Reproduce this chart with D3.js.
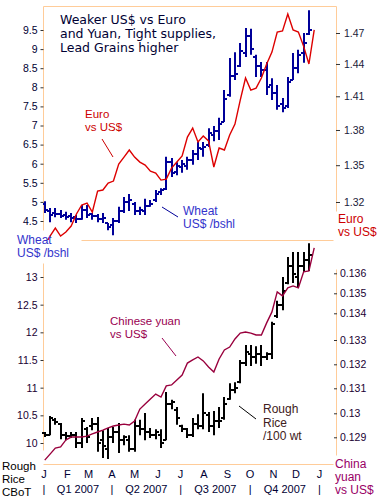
<!DOCTYPE html>
<html><head><meta charset="utf-8">
<script src="https://cdn.jsdelivr.net/npm/d3@7"></script>
<style>
body{margin:0;background:#fff}
svg{display:block}
text{font-family:"Liberation Sans",Arial,sans-serif}
</style>
</head><body>
<svg id="chart" width="381" height="499"></svg>
<script>
// ---------- data ----------
const wheatHigh = [5.02,4.84,4.84,4.79,4.74,4.71,4.66,4.92,4.92,4.71,4.68,4.71,4.45,4.58,4.87,5.13,5.21,5.00,4.87,5.08,5.05,5.31,5.36,6.18,6.15,6.04,6.10,6.18,6.36,6.57,6.57,6.93,6.99,7.20,7.93,8.77,8.92,9.16,9.55,9.53,8.85,8.66,8.66,8.24,8.06,7.72,8.27,8.90,8.98,9.42,10.02];
const wheatLow = [4.71,4.47,4.60,4.58,4.53,4.47,4.45,4.53,4.58,4.53,4.47,4.45,4.26,4.13,4.45,4.71,4.76,4.66,4.66,4.66,4.87,5.00,5.18,5.31,5.65,5.70,5.76,5.84,5.97,6.10,6.18,6.44,6.59,6.62,7.09,7.75,8.19,8.53,8.79,8.85,8.27,8.27,7.80,7.67,7.41,7.35,7.46,8.19,8.37,8.64,9.37];
const wheatOpen = [4.95,4.75,4.70,4.68,4.65,4.62,4.60,4.55,4.80,4.68,4.62,4.55,4.45,4.40,4.50,4.75,5.00,4.95,4.75,4.75,4.90,5.05,5.25,5.35,6.05,5.78,5.92,5.95,6.10,6.25,6.38,6.50,6.75,6.85,7.10,7.80,8.30,8.55,8.90,9.35,8.80,8.55,8.45,8.05,7.85,7.55,7.50,8.20,8.50,8.90,9.40];
const wheatClose = [4.78,4.65,4.68,4.62,4.60,4.58,4.55,4.78,4.65,4.62,4.55,4.58,4.35,4.50,4.75,5.00,5.05,4.75,4.78,4.90,4.95,5.20,5.30,6.05,5.75,5.95,5.98,6.10,6.25,6.40,6.45,6.80,6.85,7.05,7.70,8.30,8.35,8.95,9.35,9.00,8.55,8.45,8.00,7.85,7.50,7.45,8.15,8.50,8.85,9.15,9.50];

const riceHigh = [10.20,10.49,10.45,10.36,10.20,10.20,10.20,10.45,10.29,10.45,10.47,10.23,10.27,10.29,10.36,10.14,10.14,10.42,10.42,10.54,10.27,10.25,10.25,10.92,10.78,10.65,10.33,10.27,10.45,10.52,10.90,10.56,10.58,10.65,10.83,11.08,11.10,11.50,11.77,11.77,11.75,11.77,11.64,12.19,12.57,13.00,13.36,13.45,13.45,13.45,13.61];
const riceLow = [10.11,10.14,10.33,10.07,10.05,10.09,9.91,9.91,10.00,10.23,9.84,9.73,9.71,10.00,9.82,9.96,9.84,9.84,10.14,10.05,10.09,10.07,9.91,10.05,10.61,10.33,10.20,10.09,10.11,10.25,10.25,10.20,10.14,10.27,10.42,10.78,10.90,11.08,11.39,11.39,11.43,11.39,11.50,11.52,12.26,12.40,12.87,12.89,12.80,13.09,13.11];
const riceOpen = [10.18,10.15,10.42,10.35,10.15,10.12,10.15,10.00,10.25,10.30,10.35,10.05,9.90,10.10,10.20,10.05,10.05,9.90,10.30,10.25,10.20,10.15,10.15,10.05,10.70,10.60,10.30,10.25,10.15,10.35,10.30,10.50,10.30,10.40,10.45,10.80,10.95,11.10,11.45,11.60,11.55,11.60,11.55,11.60,12.30,12.50,12.90,13.20,13.00,13.20,13.30];
const riceClose = [10.15,10.45,10.38,10.15,10.12,10.15,10.00,10.40,10.10,10.35,10.00,9.95,10.10,10.20,10.05,10.10,9.90,10.30,10.25,10.20,10.15,10.20,10.00,10.70,10.75,10.45,10.25,10.15,10.35,10.30,10.55,10.30,10.40,10.40,10.70,10.95,11.00,11.45,11.65,11.55,11.60,11.55,11.60,12.15,12.50,12.75,13.20,13.05,13.20,13.30,13.40];

const euroVsUsd = [1.2858,1.2934,1.2995,1.2934,1.2965,1.3011,1.3105,1.3176,1.3192,1.3120,1.3288,1.3296,1.3353,1.3369,1.3510,1.3568,1.3628,1.3568,1.3526,1.3501,1.3451,1.3435,1.3377,1.3385,1.3476,1.3526,1.3577,1.3739,1.3817,1.3696,1.3748,1.3705,1.3485,1.3645,1.3628,1.3756,1.3852,1.4066,1.4268,1.4157,1.4175,1.4268,1.4400,1.4514,1.4710,1.4720,1.4890,1.4730,1.4710,1.4569,1.4400,1.4730];
const yuanVsUsd = [0.12805,0.12830,0.12855,0.12860,0.12889,0.12901,0.12901,0.12901,0.12905,0.12914,0.12922,0.12930,0.12939,0.12947,0.12951,0.12955,0.12951,0.12968,0.13017,0.13037,0.13057,0.13077,0.13065,0.13110,0.13114,0.13135,0.13155,0.13205,0.13218,0.13230,0.13214,0.13189,0.13168,0.13222,0.13259,0.13271,0.13304,0.13326,0.13330,0.13326,0.13319,0.13319,0.13364,0.13407,0.13507,0.13487,0.13527,0.13537,0.13527,0.13607,0.13612,0.13727];

const wheatTicks = [4.5,5,5.5,6,6.5,7,7.5,8,8.5,9,9.5];
const euroTicks = [1.32,1.35,1.38,1.41,1.44,1.47];
const riceTicks = [10,10.5,11,11.5,12,12.5,13];
const yuanTicks = [0.129,0.13,0.131,0.132,0.133,0.134,0.135,0.136];
const monthLabels = ["J","F","M","A","M","J","J","A","S","O","N","D","J"];
const quarterLabels = ["Q1 2007","Q2 2007","Q3 2007","Q4 2007"];

const startDate = new Date(2007,0,1), endDate = new Date(2008,0,1);
const weeks = d3.range(euroVsUsd.length).map(i => d3.timeDay.offset(new Date(2007,0,2), 7*i));
const monthStarts = d3.timeMonth.range(startDate, d3.timeDay.offset(endDate,1));
const quarterStarts = d3.timeMonth.every(3).range(startDate, d3.timeDay.offset(endDate,1));

// ---------- layout ----------
const svg = d3.select("#chart");
const ORANGE = "#ffcc99";
const x = d3.scaleTime().domain([startDate, endDate]).range([44, 319.5]);
const yWheat = d3.scaleLinear().domain([4.5, 9.5]).range([221, 30]);
const yEuro = d3.scalePow().exponent(-1).domain([1.32, 1.47]).range([202, 33]);
const yRice = d3.scaleLinear().domain([10, 13]).range([443, 277]);
const yYuan = d3.scaleLinear().domain(yuanTicks).range([437.3,413.3,388.3,364.3,340,313.3,293.3,273.3]);

// frame lines
const frame = [
  [43,6,336,6],[43,6,43,230],[336,6,336,211],[81,240,333,240],
  [43,263,43,450],[336,269,336,455],[43,464,333,464]
];
svg.append("g").selectAll("line").data(frame).join("line")
  .attr("x1",d=>d[0]+0.5).attr("y1",d=>d[1]+0.5).attr("x2",d=>d[2]+0.5).attr("y2",d=>d[3]+0.5)
  .attr("stroke",ORANGE).attr("stroke-width",1);

// axes
function styleAxis(g, color){
  g.select(".domain").remove();
  g.selectAll(".tick line").attr("stroke","#333");
  g.selectAll(".tick text").attr("fill",color).style("font-size","10.5px")
   .style("font-family","'Liberation Sans',Arial,sans-serif");
}
const fmt = d => String(d);
svg.append("g").attr("transform","translate(43.5,0)")
  .call(d3.axisLeft(yWheat).tickValues(wheatTicks).tickFormat(fmt).tickSize(3).tickPadding(3))
  .call(g=>styleAxis(g,"#000033"));
svg.append("g").attr("transform","translate(336,0)")
  .call(d3.axisRight(yEuro).tickValues(euroTicks).tickFormat(fmt).tickSize(4).tickPadding(4))
  .call(g=>styleAxis(g,"#1a1a3a"));
svg.append("g").attr("transform","translate(43.5,0)")
  .call(d3.axisLeft(yRice).tickValues(riceTicks).tickFormat(fmt).tickSize(3).tickPadding(3))
  .call(g=>styleAxis(g,"#1a0033"));
svg.append("g").attr("transform","translate(334,0)")
  .call(d3.axisRight(yYuan).tickValues(yuanTicks).tickFormat(fmt).tickSize(3).tickPadding(3))
  .call(g=>styleAxis(g,"#1a0033"));

// clip for top panel
svg.append("clipPath").attr("id","clipTop").append("rect").attr("x",43).attr("y",6).attr("width",293).attr("height",234);

// OHLC helper
function ohlc(g, hi, lo, op, cl, y, color){
  const idx = d3.range(hi.length);
  const px = i => Math.round(x(weeks[i]));
  g.selectAll("line.v").data(idx).join("line").attr("class","v")
    .attr("x1",px).attr("x2",px).attr("y1",i=>y(hi[i])).attr("y2",i=>y(lo[i]))
    .attr("stroke",color).attr("stroke-width",2);
  g.selectAll("line.o").data(idx).join("line").attr("class","o")
    .attr("x1",i=>px(i)-3).attr("x2",px).attr("y1",i=>Math.round(y(op[i]))).attr("y2",i=>Math.round(y(op[i])))
    .attr("stroke",color).attr("stroke-width",2);
  g.selectAll("line.c").data(idx).join("line").attr("class","c")
    .attr("x1",px).attr("x2",i=>px(i)+3).attr("y1",i=>Math.round(y(cl[i]))).attr("y2",i=>Math.round(y(cl[i])))
    .attr("stroke",color).attr("stroke-width",2);
}

// top panel
const topPanel = svg.append("g").attr("clip-path","url(#clipTop)");
ohlc(topPanel.append("g"), wheatHigh, wheatLow, wheatOpen, wheatClose, yWheat, "#000099");
topPanel.append("path").datum(euroVsUsd)
  .attr("d", d3.line().x((d,i)=>x(weeks[i])).y(d=>yEuro(d)))
  .attr("fill","none").attr("stroke","#dd0000").attr("stroke-width",1.4);

// bottom panel
ohlc(svg.append("g"), riceHigh, riceLow, riceOpen, riceClose, yRice, "#000000");
svg.append("path").datum(yuanVsUsd)
  .attr("d", d3.line().x((d,i)=>x(weeks[i])).y(d=>yYuan(d)))
  .attr("fill","none").attr("stroke","#99003d").attr("stroke-width",1.4);

// text helper
function label(lines, xx, y0, dy, color, size, family){
  const t = svg.append("text").attr("x",xx).attr("y",y0).attr("fill",color).style("font-size",size+"px");
  if (family) t.style("font-family", family);
  lines.forEach((s,k)=>t.append("tspan").attr("x",xx).attr("y",y0+k*dy).text(s));
}
function pointer(x1,y1,x2,y2,color){
  svg.append("line").attr("x1",x1).attr("y1",y1).attr("x2",x2).attr("y2",y2).attr("stroke",color).attr("stroke-width",1);
}

label(["Weaker US$ vs Euro","and Yuan, Tight supplies,","Lead Grains higher"],60,24,14,"#000033",12.5,"'DejaVu Sans',Verdana,sans-serif");
label(["Euro","vs US$"],85,118,13,"#cc0000",11.5);
pointer(102,139,113,157,"#cc0000");
label(["Wheat","US$ /bshl"],183,215,13,"#3333cc",12);
pointer(162,207,178,217,"#000099");
label(["Euro","vs US$"],338,223,13,"#cc0000",12);
label(["Wheat","US$ /bshl"],17,244,13,"#3333cc",12);
label(["Chinese yuan","vs US$"],110,325,13,"#990050",11.5);
pointer(162,338,176,356,"#990050");
label(["Rough","Rice","/100 wt"],263,413,13.5,"#402020",12);
pointer(239,406,256,419,"#000000");
label(["Rough","Rice","CBoT"],2,470,13,"#000000",11.5);
label(["China","yuan","vs US$"],335,468,13,"#990066",12);

// x-axis month letters
svg.append("g").selectAll("text").data(monthStarts).join("text")
  .attr("x",d=>x(d)).attr("y",478).attr("text-anchor","middle")
  .attr("fill","#000033").style("font-size","11px")
  .text((d,i)=>monthLabels[i]);
// quarter separators and labels
svg.append("g").selectAll("text").data(quarterStarts).join("text")
  .attr("x",d=>x(d)).attr("y",493).attr("text-anchor","middle")
  .attr("fill","#000033").style("font-size","11px").text("|");
svg.append("g").selectAll("text").data(quarterLabels).join("text")
  .attr("x",(d,i)=>(x(quarterStarts[i])+x(quarterStarts[i+1]))/2).attr("y",493).attr("text-anchor","middle")
  .attr("fill","#000033").style("font-size","11px").text(d=>d);
</script>
</body></html>
